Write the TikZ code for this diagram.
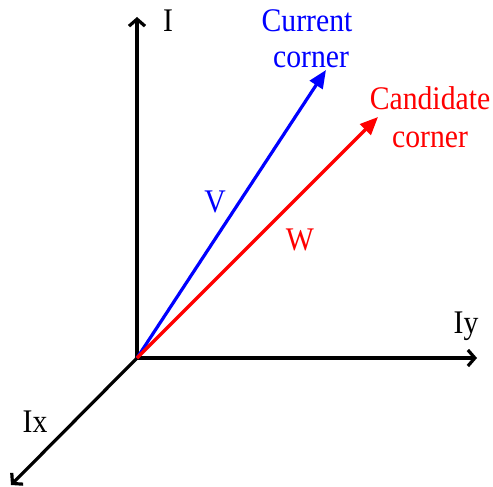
\documentclass[tikz,border=0pt]{standalone}
\usepackage{fontspec}
\setmainfont{Liberation Serif}
\usetikzlibrary{arrows.meta}
\newcommand\narrowtxt[1]{\scalebox{0.9}[1]{#1}}
\begin{document}
\begin{tikzpicture}[x=1pt,y=-1pt,
  axis/.style={line width=3.2pt,-{Straight Barb[length=7pt,width=16pt,line width=3.2pt]}},
  vec/.style={line width=3.2pt,-{Triangle[length=18pt,width=15pt]}},
  lbl/.style={font=\fontsize{33}{33}\selectfont,inner sep=0pt,anchor=base}]
\useasboundingbox (0,0) rectangle (493,487);
\coordinate (O) at (137,358);
\coordinate (Itip) at (137,17);
\coordinate (Iytip) at (477,358);
\coordinate (Ixtip) at (11,485);
\coordinate (Vtip) at (326,70);
\coordinate (Wtip) at (378,117);
\draw[axis] (O) -- (Itip);
\draw[axis] (O) -- (Iytip);
\draw[axis] (O) -- (Ixtip);
\draw[vec,blue] (O) -- (Vtip);
\draw[vec,red] (O) -- (Wtip);
\node[lbl] (lI) at (168,32) {\narrowtxt{I}};
\node[lbl] (lIy) at (466,333) {\narrowtxt{Iy}};
\node[lbl] (lIx) at (35,432) {\narrowtxt{Ix}};
\node[lbl,blue] (lcur1) at (307,32) {\narrowtxt{Current}};
\node[lbl,blue] (lcur2) at (311,68) {\narrowtxt{corner}};
\node[lbl,red] (lcan1) at (430,110) {\narrowtxt{Candidate}};
\node[lbl,red] (lcan2) at (430,147) {\narrowtxt{corner}};
\node[lbl,blue] (lV) at (215,212) {\narrowtxt{V}};
\node[lbl,red] (lW) at (300,250) {\narrowtxt{W}};
\end{tikzpicture}
\end{document}
